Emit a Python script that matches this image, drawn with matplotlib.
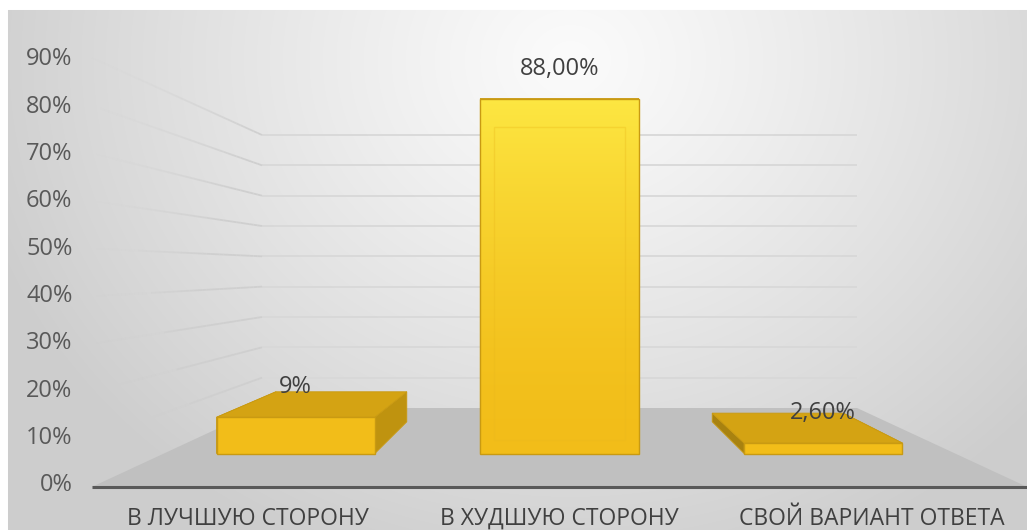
import numpy as np
import matplotlib
matplotlib.use("Agg")
import matplotlib.pyplot as plt
from matplotlib.patches import Polygon
from matplotlib.collections import LineCollection
from matplotlib.colors import to_rgb

# ---- data ----
categories = ["В ЛУЧШУЮ СТОРОНУ", "В ХУДШУЮ СТОРОНУ", "СВОЙ ВАРИАНТ ОТВЕТА"]
values = [9.0, 88.0, 2.6]
value_labels = ["9%", "88,00%", "2,60%"]
y_ticks = [0, 10, 20, 30, 40, 50, 60, 70, 80, 90]
y_tick_labels = [f"{t}%" for t in y_ticks]

W, H, DPI = 1027, 530, 100
plt.rcParams['font.family'] = ['Open Sans', 'DejaVu Sans']

fig = plt.figure(figsize=(W / DPI, H / DPI), dpi=DPI)
ax = fig.add_axes([0, 0, 1, 1])
ax.set_axis_off()

# back wall of the 3-D box: categories -0.5..n-0.5 and 0..90 % in pixel rows/cols
WALL_LEFT_PX, WALL_RIGHT_PX = 262, 857
WALL_BOTTOM_PX, WALL_TOP_PX = 408, 135
n = len(categories)
y_top = y_ticks[-1]
xu = n / (WALL_RIGHT_PX - WALL_LEFT_PX)
yu = y_top / (WALL_BOTTOM_PX - WALL_TOP_PX)
xlim = (-0.5 - WALL_LEFT_PX * xu, n - 0.5 + (W - WALL_RIGHT_PX) * xu)
ylim = (-(H - WALL_BOTTOM_PX) * yu, WALL_BOTTOM_PX * yu)
ax.set_xlim(*xlim)
ax.set_ylim(*ylim)

# perspective: each depth plane is a uniform scaling about the vanishing point
VX = (n - 1) / 2
VY = 45.5                      # eye level, in % of the value axis
S_WALL, S_FRONT = 1.0, 1.573   # back wall / front edge of the floor
S_BAR_BACK, S_BAR_FRONT = 1.10, 1.33
BAR_HALF = 0.30


def proj(x, y, s):
    return VX + s * (x - VX), VY + s * (y - VY)


# ---- chart-area background: soft radial grey gradient ----
yy, xx = np.mgrid[0:H, 0:W]
r = np.sqrt(((xx - 570) / 620.0) ** 2 + ((yy - 60) / 540.0) ** 2)
r = np.clip(r, 0, 1) ** 1.15
c_in, c_out = np.array(to_rgb("#fbfbfb")), np.array(to_rgb("#cdcdcd"))
bg = c_in[None, None, :] * (1 - r[..., None]) + c_out[None, None, :] * r[..., None]
bg[:10, :, :] = 1.0
bg[:, :8, :] = 1.0
ax.imshow(bg, extent=(xlim[0], xlim[1], ylim[0], ylim[1]), origin="upper",
          aspect="auto", zorder=0, interpolation="bilinear")

# ---- floor ----
floor = [proj(-0.5, 0, S_WALL), proj(n - 0.5, 0, S_WALL),
         proj(n - 0.5, 0, S_FRONT), proj(-0.5, 0, S_FRONT)]
ax.add_patch(Polygon(floor, closed=True, facecolor="#c0c0c0", edgecolor="none", zorder=1))

# ---- back-wall gridlines ----
for t in y_ticks[1:]:
    (xa, ya), (xb, yb) = proj(-0.5, t, S_WALL), proj(n - 0.5, t, S_WALL)
    ax.plot([xa, xb], [ya, yb], color="#d8d8d8", lw=1.3, zorder=1.5,
            solid_capstyle="butt")

# ---- side-wall gridlines, fading towards the viewer ----
grid_rgb = to_rgb("#cfcfcf")
for t in y_ticks[1:]:
    ss = np.linspace(S_WALL, S_FRONT, 41)
    pts = np.array([proj(-0.5, t, s) for s in ss])
    segs = np.stack([pts[:-1], pts[1:]], axis=1)
    fade = 1 - (np.arange(len(segs)) / len(segs))
    reach = 0.35 + 0.65 * t / y_top          # lower lines vanish sooner
    alpha = np.clip(fade / reach, 0, 1) ** 1.5
    alpha = np.where(fade < 1 - reach, alpha * 0.15, alpha)
    cols = [(*grid_rgb, a) for a in alpha]
    ax.add_collection(LineCollection(segs, colors=cols, linewidths=1.3, zorder=1.5))

# ---- front-face gradient (pale lemon at the top, gold near the floor) ----
g_lo, g_hi = np.array(to_rgb("#f2bd19")), np.array(to_rgb("#fde742"))
gy_lo = proj(0, 0, S_BAR_FRONT)[1]
gy_hi = proj(0, max(values), S_BAR_FRONT)[1]
tgrad = np.linspace(1, 0, 256) ** 1.6
grad = g_lo[None, :] * (1 - tgrad[:, None]) + g_hi[None, :] * tgrad[:, None]
grad = np.repeat(grad[:, None, :], 2, axis=1)

edge_col = "#c99a12"
for i, v in enumerate(values):
    x0, x1 = i - BAR_HALF, i + BAR_HALF
    f = lambda x, y: proj(x, y, S_BAR_FRONT)
    b = lambda x, y: proj(x, y, S_BAR_BACK)
    left = [f(x0, 0), f(x0, v), b(x0, v), b(x0, 0)]
    right = [f(x1, 0), f(x1, v), b(x1, v), b(x1, 0)]
    top = [f(x0, v), f(x1, v), b(x1, v), b(x0, v)]
    front = [f(x0, 0), f(x1, 0), f(x1, v), f(x0, v)]
    ax.add_patch(Polygon(left, facecolor="#a88210", edgecolor=edge_col, lw=0.6, zorder=3))
    ax.add_patch(Polygon(right, facecolor="#bf930f", edgecolor=edge_col, lw=0.6, zorder=3))
    ax.add_patch(Polygon(top, facecolor="#d4a313", edgecolor=edge_col, lw=0.6, zorder=3.1))
    fp = Polygon(front, facecolor="none", edgecolor=edge_col, lw=1.0, zorder=3.3)
    ax.add_patch(fp)
    fx0, fy0 = front[0]
    fx1, fy1 = front[2]
    im = ax.imshow(grad, extent=(fx0, fx1, gy_lo, gy_hi), origin="upper",
                   aspect="auto", zorder=3.2, interpolation="bilinear")
    im.set_clip_path(fp)
    # bevel highlight inside tall faces
    dx, dy = 14 * xu, 14 * yu
    if fy1 - fy0 > 4 * dy:
        inner = [(fx0 + dx, fy0 + dy), (fx1 - dx, fy0 + dy),
                 (fx1 - dx, fy1 - 2 * dy), (fx0 + dx, fy1 - 2 * dy)]
        ax.add_patch(Polygon(inner, facecolor="none", edgecolor="#eab91c",
                             lw=1.0, alpha=0.35, zorder=3.4))
    # value label above the front face
    ax.annotate(value_labels[i], xy=f(i, v), xytext=(0, 30), textcoords="offset pixels",
                ha="center", va="center", fontsize=17, color="#404040", zorder=5)

# ---- category axis line at the front edge of the floor ----
(xa, ya), (xb, yb) = proj(-0.5, 0, S_FRONT), proj(n - 0.5, 0, S_FRONT)
ax.plot([xa, xlim[1]], [ya, yb], color="#595959", lw=2.2, zorder=4,
        solid_capstyle="butt")

# ---- value-axis labels on the front plane ----
for t, lab in zip(y_ticks, y_tick_labels):
    ax.annotate(lab, xy=proj(-0.5, t, 1.56), xytext=(-23, 0), textcoords="offset pixels",
                ha="right", va="center", fontsize=17, color="#595959", zorder=5)

# ---- category labels below the axis line ----
for i, lab in enumerate(categories):
    ax.annotate(lab, xy=proj(i, 0, S_FRONT), xytext=(0, -32), textcoords="offset pixels",
                ha="center", va="center", fontsize=16.5, color="#404040", zorder=5)

fig.savefig("out.png", dpi=DPI)
